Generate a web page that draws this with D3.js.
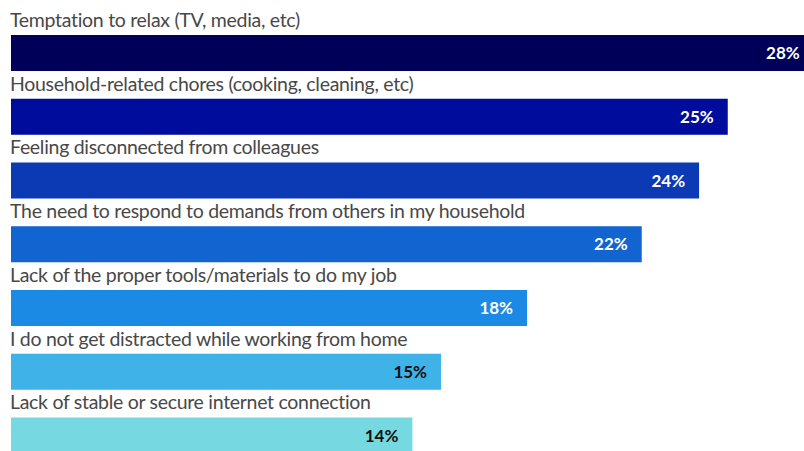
<!DOCTYPE html>
<html>
<head>
<meta charset="utf-8">
<script src="https://cdn.jsdelivr.net/npm/d3@7"></script>
<style>
  html, body { margin: 0; padding: 0; background: #fff; }
  svg { display: block; }
</style>
</head>
<body>
<svg id="chart" width="804" height="451"></svg>
<script>
// Distractions when working from home, share of respondents
const categories = [
  "Temptation to relax (TV, media, etc)",
  "Household-related chores (cooking, cleaning, etc)",
  "Feeling disconnected from colleagues",
  "The need to respond to demands from others in my household",
  "Lack of the proper tools/materials to do my job",
  "I do not get distracted while working from home",
  "Lack of stable or secure internet connection"
];
const values = [28, 25, 24, 22, 18, 15, 14];
const barColors = ["#000058", "#000c9c", "#0b3ab4", "#1264d0", "#1a8ae4", "#3fb2e8", "#76d8e0"];
const valueTextColors = ["#ffffff", "#ffffff", "#ffffff", "#ffffff", "#ffffff", "#111111", "#111111"];

const data = categories.map((c, i) => ({ category: c, value: values[i], color: barColors[i], textColor: valueTextColors[i] }));

const svg = d3.select("#chart");

const x = d3.scaleLinear().domain([0, 28]).range([11, 11 + 28 * 28.67]);
const y = d3.scaleBand()
  .domain(categories)
  .range([35, 453.5])
  .paddingInner(0.435)
  .paddingOuter(0);

const rows = svg.selectAll("g.row")
  .data(data)
  .join("g")
  .attr("class", "row");

rows.append("rect")
  .attr("x", x(0))
  .attr("y", d => y(d.category))
  .attr("width", d => x(d.value) - x(0))
  .attr("height", y.bandwidth())
  .attr("fill", d => d.color);

rows.append("text")
  .attr("x", x(0) - 1)
  .attr("y", d => y(d.category) - 8)
  .attr("font-family", "Lato, sans-serif")
  .attr("font-size", 19.5)
  .attr("letter-spacing", "-0.3px")
  .attr("fill", "#484848")
  .text(d => d.category);

rows.append("text")
  .attr("x", d => x(d.value) - 14)
  .attr("y", d => y(d.category) + y.bandwidth() / 2)
  .attr("dy", "0.36em")
  .attr("text-anchor", "end")
  .attr("font-family", "Lato, sans-serif")
  .attr("font-weight", "bold")
  .attr("font-size", 17)
  .attr("fill", d => d.textColor)
  .text(d => d.value + "%");
</script>
</body>
</html>
